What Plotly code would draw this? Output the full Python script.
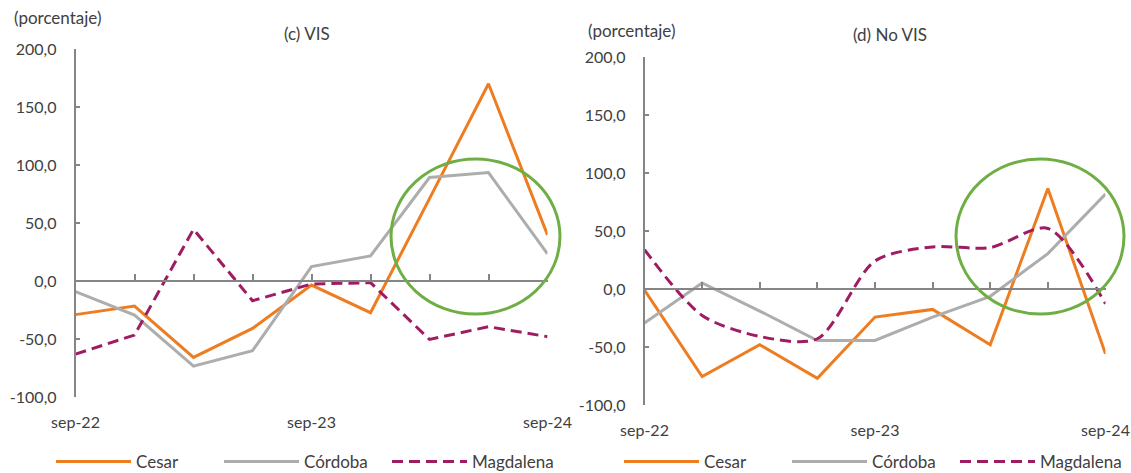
import plotly.graph_objects as go

categories = ["sep-22", "dic-22", "mar-23", "jun-23", "sep-23", "dic-23", "mar-24", "jun-24", "sep-24"]
x_ticks = ["sep-22", "sep-23", "sep-24"]
y_ticks = [-100, -50, 0, 50, 100, 150, 200]
y_tick_text = ["-100,0", "-50,0", "0,0", "50,0", "100,0", "150,0", "200,0"]

# (c) VIS
vis_cesar = [-29, -21.6, -65.9, -40.9, -3.5, -27.3, 71, 170, 39.7]
vis_cordoba = [-9.2, -29.4, -73.4, -60.1, 12.4, 21.6, 89.2, 93.5, 23.3]
vis_magdalena = [-63, -46.6, 44.6, -17, -2.6, -1.4, -50.4, -39.4, -48]

# (d) No VIS
novis_cesar = [-1, -75.5, -48.1, -77, -24.2, -17.6, -48.1, 86.7, -55.9]
novis_cordoba = [-29.4, 5.2, -19, -44.4, -44.4, -24.2, -6.3, 30.5, 81.8]
novis_magdalena = [34, -22.8, -40.9, -42.9, 24.2, 36.3, 35.7, 52.2, -12.7]

ORANGE = "#EE7D22"
GREY = "#ADADAD"
MAGENTA = "#9E1C62"
GREEN = "#6FAE45"
AXIS = "#858585"
TEXT = "#404040"
FONT = "Lato"

W, H = 1131, 473
dom_left_x = [75.5 / W, 547.5 / W]
dom_left_y = [1 - 397 / H, 1 - 49 / H]
dom_right_x = [644.5 / W, 1105.5 / W]
dom_right_y = [1 - 405 / H, 1 - 57 / H]

fig = go.Figure()

def add_series(xa, ya, legend, cesar, cordoba, magdalena, mag_shape):
    fig.add_trace(go.Scatter(x=categories, y=cesar, name="Cesar", mode="lines",
                             line=dict(color=ORANGE, width=3), xaxis=xa, yaxis=ya, legend=legend))
    fig.add_trace(go.Scatter(x=categories, y=cordoba, name="Córdoba", mode="lines",
                             line=dict(color=GREY, width=3), xaxis=xa, yaxis=ya, legend=legend))
    fig.add_trace(go.Scatter(x=categories, y=magdalena, name="Magdalena", mode="lines",
                             line=dict(color=MAGENTA, width=3, dash="11px,6px", shape=mag_shape, smoothing=0.8),
                             xaxis=xa, yaxis=ya, legend=legend))

add_series("x", "y", "legend", vis_cesar, vis_cordoba, vis_magdalena, "linear")
add_series("x2", "y2", "legend2", novis_cesar, novis_cordoba, novis_magdalena, "spline")

# invisible carriers so the zero-line axes get drawn
fig.add_trace(go.Scatter(x=[None], y=[None], xaxis="x3", yaxis="y", mode="lines",
                         showlegend=False, hoverinfo="skip"))
fig.add_trace(go.Scatter(x=[None], y=[None], xaxis="x4", yaxis="y2", mode="lines",
                         showlegend=False, hoverinfo="skip"))

def zero_pos(dom):
    return dom[0] + (dom[1] - dom[0]) * (0 - (-100)) / (200 - (-100))

base_x = dict(type="category", categoryorder="array", categoryarray=categories,
              range=[0, len(categories) - 1], tickvals=x_ticks, ticktext=x_ticks,
              showline=False, ticks="", showgrid=False, zeroline=False, automargin=False,
              tickfont=dict(family=FONT, size=16, color=TEXT), ticklabelstandoff=14)
base_y = dict(range=[-100, 200], tickvals=y_ticks, ticktext=y_tick_text,
              showline=True, linecolor=AXIS, linewidth=1.5, ticks="inside", ticklen=5,
              tickcolor=AXIS, tickwidth=1.5, showgrid=False, zeroline=False, automargin=False,
              tickfont=dict(family=FONT, size=16, color=TEXT), ticklabelstandoff=14)
zero_axis = dict(type="linear", range=[0, len(categories) - 1], dtick=1, tick0=0,
                 showticklabels=False, showline=True, linecolor=AXIS, linewidth=1.5,
                 ticks="inside", ticklen=6, tickcolor=AXIS, tickwidth=1.5, automargin=False,
                 showgrid=False, zeroline=False, anchor="free", side="bottom")

legend_style = dict(orientation="h", xanchor="left", yanchor="middle",
                    itemwidth=75, entrywidth=78, entrywidthmode="pixels",
                    font=dict(family=FONT, size=17, color=TEXT), bgcolor="rgba(0,0,0,0)")

fig.update_layout(
    width=W, height=H,
    margin=dict(l=0, r=0, t=0, b=0, autoexpand=False),
    plot_bgcolor="white", paper_bgcolor="white",
    font=dict(family=FONT, size=16, color=TEXT),
    xaxis=dict(base_x, domain=dom_left_x, anchor="y"),
    yaxis=dict(base_y, domain=dom_left_y, anchor="x"),
    xaxis2=dict(base_x, domain=dom_right_x, anchor="y2"),
    yaxis2=dict(base_y, domain=dom_right_y, anchor="x2"),
    xaxis3=dict(zero_axis, overlaying="x", position=zero_pos(dom_left_y)),
    xaxis4=dict(zero_axis, overlaying="x2", position=zero_pos(dom_right_y)),
    legend=dict(legend_style, x=51 / W, y=1 - 462 / H),
    legend2=dict(legend_style, x=619 / W, y=1 - 462 / H),
    showlegend=True,
)

annots = [
    ("(porcentaje)", 12, 18, "left"),
    ("(c) VIS", 307, 33, "center"),
    ("(porcentaje)", 586, 31, "left"),
    ("(d) No VIS", 890, 35, "center"),
]
for text, px, py, anchor in annots:
    fig.add_annotation(text=text, x=px / W, y=1 - py / H, xref="paper", yref="paper",
                       xanchor=anchor, yanchor="middle", showarrow=False,
                       font=dict(family=FONT, size=17, color=TEXT))

circles = [(391, 159, 560, 314), (956, 159, 1124, 314)]
for x0, y0, x1, y1 in circles:
    fig.add_shape(type="circle", xref="paper", yref="paper",
                  x0=x0 / W, x1=x1 / W, y0=1 - y1 / H, y1=1 - y0 / H,
                  line=dict(color=GREEN, width=3))

fig.write_html("out.html", config={"displayModeBar": False},
               post_script="document.body.style.margin='0';document.body.style.overflow='hidden';")
